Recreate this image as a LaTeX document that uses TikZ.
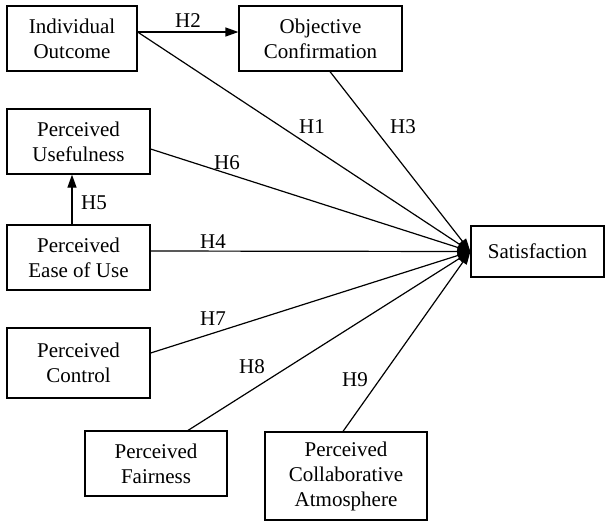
\documentclass[tikz,border=0pt]{standalone}
\usepackage{fontspec}
\setmainfont{Liberation Serif}
\usetikzlibrary{arrows.meta,calc}
\begin{document}
\begin{tikzpicture}[x=0.5pt,y=-0.5pt,
  box/.style={draw,line width=0.6pt,align=center,inner sep=0pt,
    font=\fontsize{10.5pt}{12.5pt}\selectfont},
  lab/.style={inner sep=0pt,font=\fontsize{10.5pt}{12.5pt}\selectfont},
  conn/.style={line width=0.6pt,-{Triangle[length=6.5pt,width=4.5pt]}}]
\useasboundingbox (0,0) rectangle (605,521);
\node[box,minimum width=65pt,minimum height=32.5pt] (io) at (72,38.5) {Individual\\Outcome};
\node[box,minimum width=81.5pt,minimum height=32.5pt] (oc) at (320.5,38.5) {Objective\\Confirmation};
\node[box,minimum width=71.5pt,minimum height=32.5pt] (pu) at (78.5,141.5) {Perceived\\Usefulness};
\node[box,minimum width=71.5pt,minimum height=32.5pt] (pe) at (78.5,257.5) {Perceived\\Ease of Use};
\node[box,minimum width=71.5pt,minimum height=35pt] (pc) at (78.5,363) {Perceived\\Control};
\node[box,minimum width=71pt,minimum height=32.5pt] (pf) at (156,463.5) {Perceived\\Fairness};
\node[box,minimum width=81pt,minimum height=44pt] (pca) at (346,476) {Perceived\\Collaborative\\Atmosphere};
\node[box,minimum width=66.5pt,minimum height=25.5pt] (sat) at (537.5,251.5) {Satisfaction};
% anchor points
\coordinate (a1) at (io.east |- 0,32);
\coordinate (b1) at (oc.west |- 0,32);
\coordinate (a3) at (oc.south -| 330,0);
\coordinate (a6) at (pu.east |- 0,149);
\coordinate (a5) at (pe.north -| 72,0);
\coordinate (b5) at (pu.south -| 72,0);
\coordinate (a4) at (pe.east |- 0,251);
\coordinate (a7) at (pc.east |- 0,353);
\coordinate (a8) at (pf.north -| 188,0);
\coordinate (a9) at (pca.north -| 343,0);
% connectors
\draw[conn] (a1) -- (b1);
\draw[conn] (a1) -- (sat.west);
\draw[conn] (a3) -- (sat.west);
\draw[conn] (a6) -- (sat.west);
\draw[conn] (a5) -- (b5);
\draw[conn] (a4) -- (sat.west);
\draw[conn] (a7) -- (sat.west);
\draw[conn] (a8) -- (sat.west);
\draw[conn] (a9) -- (sat.west);
% labels
\node[lab] (h2) at (188,21) {H2};
\node[lab] (h1) at (312,127) {H1};
\node[lab] (h3) at (403,127) {H3};
\node[lab] (h6) at (227,163) {H6};
\node[lab] (h5) at (94,203) {H5};
\node[lab] (h4) at (213,242) {H4};
\node[lab] (h7) at (213,319) {H7};
\node[lab] (h8) at (252,367) {H8};
\node[lab] (h9) at (355,380) {H9};
\end{tikzpicture}
\end{document}
